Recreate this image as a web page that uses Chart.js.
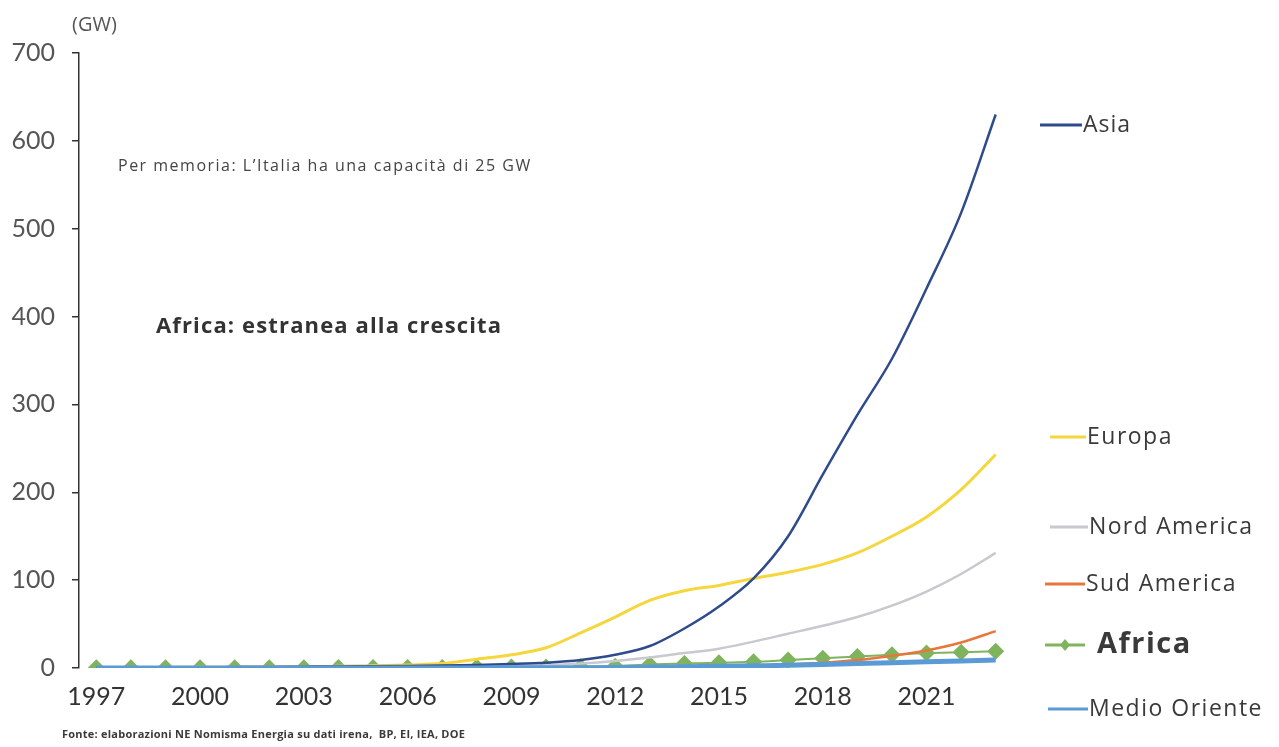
<!DOCTYPE html>
<html lang="it">
<head>
<meta charset="utf-8">
<title>Capacità fotovoltaica per regione</title>
<script src="https://cdn.jsdelivr.net/npm/chart.js@4/dist/chart.umd.min.js"></script>
<style>
    html, body { margin: 0; padding: 0; background: #fff; }
    #wrap { width: 1279px; height: 747px; }
</style>
</head>
<body>
<div id="wrap"><canvas id="pvChart" width="1279" height="747"></canvas></div>
<script>
// anni 1997-2023
const anni = [];
for (let a = 1997; a <= 2023; a++) anni.push(String(a));

// capacità installata (GW)
const asia = [0.5, 0.6, 0.7, 0.8, 1, 1.2, 1.5, 1.8, 2, 2.3, 2.8, 3.5, 4.5, 6, 9, 15, 25, 45, 70, 102, 150, 220, 288, 352, 432, 518, 630];
const europa = [0.5, 0.6, 0.7, 0.8, 1, 1.2, 1.5, 2, 2.5, 3.5, 5, 10, 15, 23, 40, 58, 77, 88, 94, 102, 109, 118, 131, 150, 172, 203, 243];
const nordAmerica = [0.2, 0.2, 0.3, 0.3, 0.4, 0.4, 0.5, 0.6, 0.7, 0.8, 1, 1.5, 2, 3, 5, 8, 12, 17, 22, 30, 39, 48, 58, 71, 87, 107, 131];
const sudAmerica = [0, 0, 0, 0, 0, 0, 0, 0, 0, 0, 0, 0, 0, 0.1, 0.2, 0.3, 0.5, 1, 1.5, 2.5, 4, 6, 9, 14, 20, 29, 42];
const africa = [0.2, 0.2, 0.3, 0.3, 0.3, 0.4, 0.4, 0.5, 0.5, 0.6, 0.7, 0.8, 1, 1.2, 1.5, 2, 4, 5, 6, 7, 9, 11, 13, 15, 17, 18, 19];
const medioOriente = [0, 0, 0, 0, 0, 0, 0, 0, 0, 0, 0, 0.1, 0.2, 0.3, 0.4, 0.5, 1, 1.5, 2, 2.5, 3, 4, 5, 6, 7, 8, 9];

const yTicks = [0, 100, 200, 300, 400, 500, 600, 700];

const COL = {
    asia: '#2f4b8c',
    europa: '#f5d63d',
    nord: '#c8c8cf',
    sud: '#e8763c',
    africa: '#80b35e',
    medio: '#5b9bd5'
};

const FONT = '"Open Sans", Lato, sans-serif';

// legenda a destra, etichette accanto alle linee
const legendaVoci = [
    { testo: 'Asia', colore: COL.asia, x0: 1040, x1: 1082, y: 125, font: '23px ' + FONT, w: 47 },
    { testo: 'Europa', colore: COL.europa, x0: 1050, x1: 1086, y: 437, font: '23px ' + FONT, w: 86 },
    { testo: 'Nord America', colore: COL.nord, x0: 1050, x1: 1088, y: 527, font: '23px ' + FONT, w: 163 },
    { testo: 'Sud America', colore: COL.sud, x0: 1045, x1: 1085, y: 584, font: '23px ' + FONT, w: 152 },
    { testo: 'Africa', colore: COL.africa, x0: 1045, x1: 1085, y: 645, font: 'bold 29px ' + FONT, w: 96, marker: true },
    { testo: 'Medio Oriente', colore: COL.medio, x0: 1048, x1: 1088, y: 709, font: '23px ' + FONT, w: 175 }
];

// scrive il testo allargando un poco la spaziatura fino alla larghezza voluta
function testoLargo(ctx, testo, x, y, larghezza) {
    ctx.letterSpacing = '0px';
    const w = ctx.measureText(testo).width;
    const extra = Math.max(0, (larghezza - w) / Math.max(1, testo.length - 1));
    ctx.letterSpacing = Math.min(extra, 1.5).toFixed(2) + 'px';
    ctx.fillText(testo, x, y);
    ctx.letterSpacing = '0px';
}

const testiPlugin = {
    id: 'testi',
    afterDraw(chart) {
        const ctx = chart.ctx;
        ctx.save();
        ctx.textBaseline = 'middle';
        ctx.textAlign = 'left';

        ctx.fillStyle = '#555';
        ctx.font = '20px ' + FONT;
        ctx.fillText('(GW)', 72, 25);

        ctx.fillStyle = '#444';
        ctx.font = '16px ' + FONT;
        testoLargo(ctx, 'Per memoria: L\u2019Italia ha una capacità di 25 GW', 118, 166, 424);

        ctx.fillStyle = '#333';
        ctx.font = 'bold 22px ' + FONT;
        testoLargo(ctx, 'Africa: estranea alla crescita', 156, 327, 345);

        ctx.font = 'bold 11px ' + FONT;
        ctx.fillStyle = '#3a3a3a';
        testoLargo(ctx, 'Fonte: elaborazioni NE Nomisma Energia su dati irena,  BP, EI, IEA, DOE', 62, 735, 403);

        legendaVoci.forEach(v => {
            ctx.strokeStyle = v.colore;
            ctx.lineWidth = 3;
            ctx.beginPath();
            ctx.moveTo(v.x0, v.y);
            ctx.lineTo(v.x1, v.y);
            ctx.stroke();
            let xt = v.x1 + 1;
            if (v.marker) {
                const cx = (v.x0 + v.x1) / 2;
                ctx.fillStyle = v.colore;
                ctx.beginPath();
                ctx.moveTo(cx, v.y - 6);
                ctx.lineTo(cx + 5, v.y);
                ctx.lineTo(cx, v.y + 6);
                ctx.lineTo(cx - 5, v.y);
                ctx.closePath();
                ctx.fill();
                xt = v.x1 + 12;
            }
            ctx.fillStyle = '#3a3a3a';
            ctx.font = v.font;
            testoLargo(ctx, v.testo, xt, v.y, v.w);
        });
        ctx.restore();
    }
};

function serie(label, data, colore, spessore, ordine) {
    return {
        label: label,
        data: data,
        borderColor: colore,
        backgroundColor: colore,
        borderWidth: spessore,
        pointRadius: 0,
        tension: 0.35,
        cubicInterpolationMode: 'monotone',
        order: ordine
    };
}

const ctx = document.getElementById('pvChart').getContext('2d');
new Chart(ctx, {
    type: 'line',
    data: {
        labels: anni,
        datasets: [
            serie('Asia', asia, COL.asia, 2.5, 1),
            serie('Europa', europa, COL.europa, 3, 2),
            serie('Nord America', nordAmerica, COL.nord, 2.5, 3),
            serie('Sud America', sudAmerica, COL.sud, 2.5, 4),
            Object.assign(serie('Africa', africa, COL.africa, 2, 5), {
                pointRadius: 8.5,
                pointStyle: 'rectRot',
                pointBorderWidth: 0,
                pointBackgroundColor: COL.africa
            }),
            // linea spessa sulla base, disegnata sopra i marcatori
            serie('Medio Oriente', medioOriente, COL.medio, 5, 0)
        ]
    },
    options: {
        responsive: false,
        animation: false,
        layout: {
            padding: { top: 53, right: 266, bottom: 39, left: 0 }
        },
        plugins: {
            legend: { display: false },
            tooltip: { enabled: false },
            title: { display: false }
        },
        scales: {
            x: {
                offset: true,
                afterFit(scale) { scale.height = 40; },
                grid: { display: false },
                border: { display: false },
                ticks: {
                    autoSkip: false,
                    maxRotation: 0,
                    padding: 6,
                    color: '#333',
                    font: { family: 'Lato', size: 25 },
                    callback(val, i) {
                        return i % 3 === 0 ? anni[i] : '';
                    }
                }
            },
            y: {
                min: 0,
                max: 700,
                afterFit(scale) { scale.width = 79; },
                afterBuildTicks(scale) {
                    scale.ticks = yTicks.map(v => ({ value: v }));
                },
                grid: {
                    drawOnChartArea: false,
                    drawTicks: true,
                    tickLength: 7,
                    color: '#333',
                    lineWidth: 1.5
                },
                border: { display: true, color: '#333', width: 1.5 },
                ticks: {
                    padding: 17,
                    color: '#555',
                    font: { family: 'Lato', size: 25 }
                }
            }
        }
    },
    plugins: [testiPlugin]
});
</script>
</body>
</html>
